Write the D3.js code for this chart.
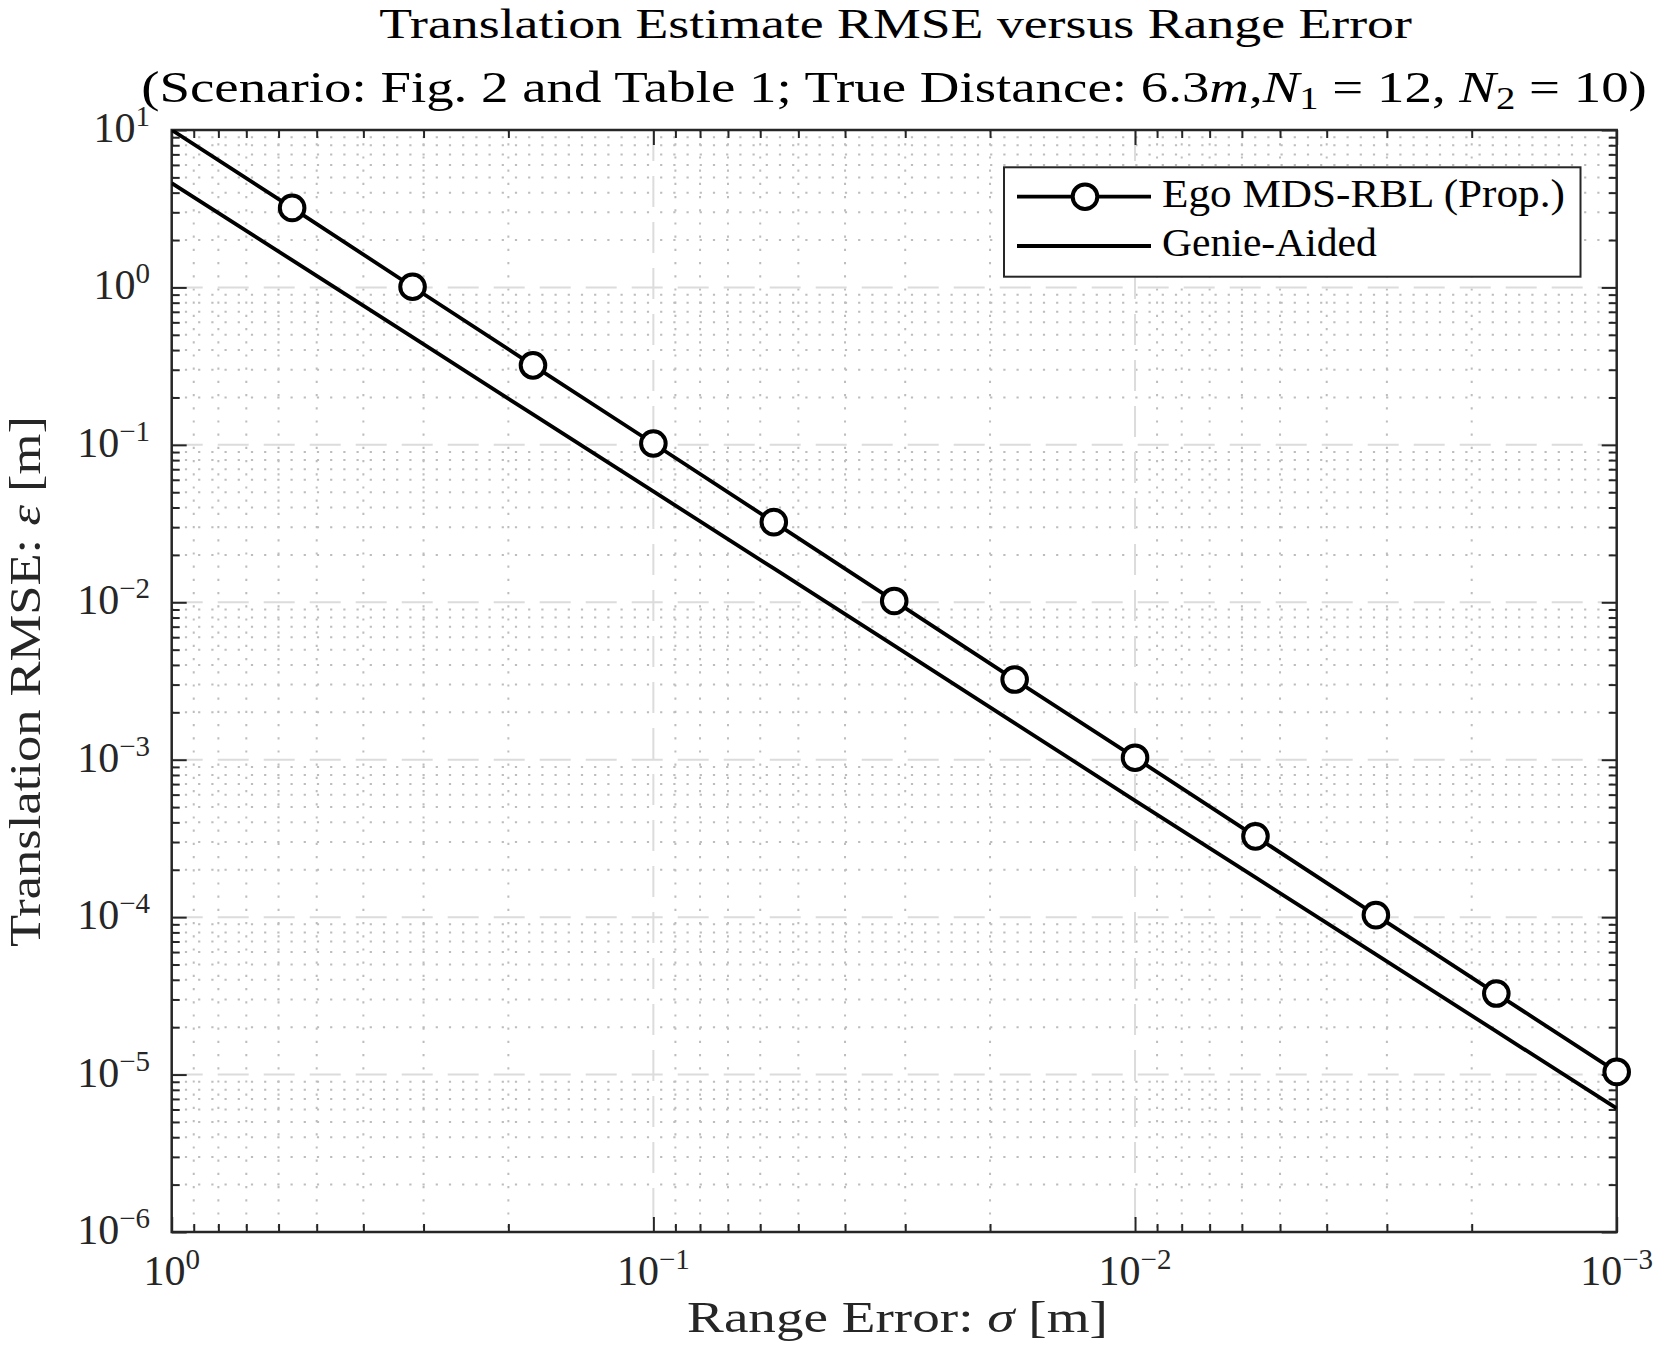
<!DOCTYPE html>
<html>
<head>
<meta charset="utf-8">
<script src="https://cdn.jsdelivr.net/npm/d3@7"></script>
<style>
  html, body { margin: 0; padding: 0; background: #fff; }
  svg { display: block; }
  text { font-family: "Liberation Serif", "DejaVu Serif", serif; }
</style>
</head>
<body>
<svg id="chart" width="1661" height="1363"></svg>
<script>
// ---------------- data ----------------
const sigma = [1, 0.5623, 0.3162, 0.1778, 0.1, 0.05623, 0.03162, 0.01778, 0.01, 0.005623, 0.003162, 0.001778, 0.001];
const egoRMSE = [10, 3.2, 1.01, 0.32, 0.102, 0.0323, 0.0102, 0.00323, 0.00103, 0.000326, 0.000103, 0.0000327, 0.0000104];
const egoMarkerShown = [false, true, true, true, true, true, true, true, true, true, true, true, true];
const genieRMSE = [4.6, 1.49, 0.483, 0.156, 0.0506, 0.0164, 0.0053, 0.00171, 0.00055, 0.000179, 0.000058, 0.0000188, 0.0000061];
const seriesNames = ["Ego MDS-RBL (Prop.)", "Genie-Aided"];
const xTickValues = [1, 0.1, 0.01, 0.001];
const xTickExponents = ["0", "\u22121", "\u22122", "\u22123"];
const yTickValues = [10, 1, 0.1, 0.01, 0.001, 0.0001, 0.00001, 0.000001];
const yTickExponents = ["1", "0", "\u22121", "\u22122", "\u22123", "\u22124", "\u22125", "\u22126"];
const titleLine1 = "Translation Estimate RMSE versus Range Error";
const xLabelText = ["Range Error: ", "\u03C3", " [m]"];
const yLabelText = ["Translation RMSE: ", "\u03B5", " [m]"];

// ---------------- layout ----------------
const L = 171.7, R = 1616.7, T = 130, B = 1232;
const axisColor = "#262626";
const svg = d3.select("#chart");
svg.append("rect").attr("width", 1661).attr("height", 1363).attr("fill", "#fff");

const x = d3.scaleLog().domain([1, 0.001]).range([L, R]);
const y = d3.scaleLog().domain([0.000001, 10]).range([B, T]);

const isMajor = v => Math.abs(Math.log10(v) - Math.round(Math.log10(v))) < 1e-9;
const xAll = x.ticks();
const yAll = y.ticks();
const xMinor = xAll.filter(v => !isMajor(v));
const yMinor = yAll.filter(v => !isMajor(v));
const xMajor = xAll.filter(isMajor);
const yMajor = yAll.filter(isMajor);

// ---------------- grid ----------------
const grid = svg.append("g");
grid.selectAll(".xminor").data(xMinor).enter().append("line")
  .attr("x1", d => x(d)).attr("x2", d => x(d)).attr("y1", T).attr("y2", B)
  .attr("stroke", "#bdbdbd").attr("stroke-width", 2).attr("stroke-dasharray", "2.2,11");
grid.selectAll(".yminor").data(yMinor).enter().append("line")
  .attr("y1", d => y(d)).attr("y2", d => y(d)).attr("x1", L).attr("x2", R)
  .attr("stroke", "#bdbdbd").attr("stroke-width", 2).attr("stroke-dasharray", "2.2,11");
grid.selectAll(".xmajor").data(xMajor.filter(v => v < 1 && v > 0.001)).enter().append("line")
  .attr("x1", d => x(d)).attr("x2", d => x(d)).attr("y1", T).attr("y2", B)
  .attr("stroke", "#dcdcdc").attr("stroke-width", 2).attr("stroke-dasharray", "31,15");
grid.selectAll(".ymajor").data(yMajor.filter(v => v < 10 && v > 0.000001)).enter().append("line")
  .attr("y1", d => y(d)).attr("y2", d => y(d)).attr("x1", L).attr("x2", R)
  .attr("stroke", "#dcdcdc").attr("stroke-width", 2).attr("stroke-dasharray", "31,15");

// ---------------- axes (ticks inward, box) ----------------
function styleAxis(g) {
  g.select(".domain").remove();
  g.selectAll(".tick line").attr("stroke", axisColor).attr("stroke-width", 2);
  g.selectAll(".tick text").remove();
}
const axes = svg.append("g");
axes.append("g").attr("transform", `translate(0,${B})`).call(d3.axisBottom(x).tickValues(xMinor).tickSize(-8).tickFormat("")).call(styleAxis);
axes.append("g").attr("transform", `translate(0,${B})`).call(d3.axisBottom(x).tickValues(xMajor).tickSize(-15).tickFormat("")).call(styleAxis);
axes.append("g").attr("transform", `translate(0,${T})`).call(d3.axisTop(x).tickValues(xMinor).tickSize(-8).tickFormat("")).call(styleAxis);
axes.append("g").attr("transform", `translate(0,${T})`).call(d3.axisTop(x).tickValues(xMajor).tickSize(-15).tickFormat("")).call(styleAxis);
axes.append("g").attr("transform", `translate(${L},0)`).call(d3.axisLeft(y).tickValues(yMinor).tickSize(-8).tickFormat("")).call(styleAxis);
axes.append("g").attr("transform", `translate(${L},0)`).call(d3.axisLeft(y).tickValues(yMajor).tickSize(-15).tickFormat("")).call(styleAxis);
axes.append("g").attr("transform", `translate(${R},0)`).call(d3.axisRight(y).tickValues(yMinor).tickSize(-8).tickFormat("")).call(styleAxis);
axes.append("g").attr("transform", `translate(${R},0)`).call(d3.axisRight(y).tickValues(yMajor).tickSize(-15).tickFormat("")).call(styleAxis);
axes.append("rect").attr("x", L).attr("y", T).attr("width", R - L).attr("height", B - T)
  .attr("fill", "none").attr("stroke", axisColor).attr("stroke-width", 2.5);

// tick labels
const tickFont = 42, supFont = 29;
yTickValues.forEach((v, i) => {
  const t = svg.append("text").attr("x", 150).attr("y", y(v) + 12)
    .attr("text-anchor", "end").attr("font-size", tickFont).attr("fill", axisColor);
  t.append("tspan").text("10");
  t.append("tspan").attr("font-size", supFont).attr("dy", -16).text(yTickExponents[i]);
});
xTickValues.forEach((v, i) => {
  const t = svg.append("text").attr("x", x(v)).attr("y", 1285)
    .attr("text-anchor", "middle").attr("font-size", tickFont).attr("fill", axisColor);
  t.append("tspan").text("10");
  t.append("tspan").attr("font-size", supFont).attr("dy", -16).text(xTickExponents[i]);
});

// ---------------- data ----------------
svg.append("clipPath").attr("id", "plotclip").append("rect")
  .attr("x", L).attr("y", T).attr("width", R - L).attr("height", B - T);
const line = d3.line().x(d => x(d[0])).y(d => y(d[1]));
const dataG = svg.append("g");
dataG.append("path").datum(sigma.map((s, i) => [s, genieRMSE[i]]))
  .attr("d", line).attr("fill", "none").attr("stroke", "#000").attr("stroke-width", 3.8)
  .attr("clip-path", "url(#plotclip)");
dataG.append("path").datum(sigma.map((s, i) => [s, egoRMSE[i]]))
  .attr("d", line).attr("fill", "none").attr("stroke", "#000").attr("stroke-width", 3.8)
  .attr("clip-path", "url(#plotclip)");
dataG.selectAll("circle").data(sigma.map((s, i) => [s, egoRMSE[i], egoMarkerShown[i]]).filter(d => d[2]))
  .enter().append("circle")
  .attr("cx", d => x(d[0])).attr("cy", d => y(d[1])).attr("r", 12.3)
  .attr("fill", "#fff").attr("stroke", "#000").attr("stroke-width", 4);

// ---------------- text helpers ----------------
function fitted(parentG, cx, baseY, target, anchor, build, rotate) {
  const g = parentG.append("g");
  const t = g.append("text").attr("x", 0).attr("y", 0).attr("text-anchor", anchor);
  build(t);
  const w = t.node().getBBox().width;
  const s = target / w;
  g.attr("transform", `translate(${cx},${baseY})` + (rotate ? ` rotate(${rotate})` : "") + ` scale(${s},1)`);
  return t;
}

// Title
fitted(svg, 895.5, 38, 1033, "middle", t => {
  t.attr("font-size", 42).attr("fill", "#000").text(titleLine1);
});
fitted(svg, 894, 102, 1506, "middle", t => {
  t.attr("font-size", 44).attr("fill", "#000").style("white-space", "pre");
  t.append("tspan").text("(Scenario: Fig. 2 and Table 1; True Distance: 6.3");
  t.append("tspan").attr("font-style", "italic").text("m");
  t.append("tspan").text(",");
  t.append("tspan").attr("font-style", "italic").text("N");
  t.append("tspan").attr("font-size", 31).attr("dy", 7).text("1");
  t.append("tspan").attr("dy", -7).text(" = 12, ");
  t.append("tspan").attr("font-style", "italic").text("N");
  t.append("tspan").attr("font-size", 31).attr("dy", 7).text("2");
  t.append("tspan").attr("dy", -7).text(" = 10)");
});

// Axis labels
fitted(svg, 897.5, 1332, 421, "middle", t => {
  t.attr("font-size", 45).attr("fill", axisColor).style("white-space", "pre");
  t.append("tspan").text(xLabelText[0]);
  t.append("tspan").attr("font-style", "italic").text(xLabelText[1]);
  t.append("tspan").text(xLabelText[2]);
});
fitted(svg, 40, 681.5, 531, "middle", t => {
  t.attr("font-size", 44).attr("fill", axisColor).style("white-space", "pre");
  t.append("tspan").text(yLabelText[0]);
  t.append("tspan").attr("font-style", "italic").text(yLabelText[1]);
  t.append("tspan").text(yLabelText[2]);
}, -90);

// ---------------- legend ----------------
const lg = svg.append("g");
lg.append("rect").attr("x", 1004).attr("y", 167.3).attr("width", 576.5).attr("height", 109.4)
  .attr("fill", "#fff").attr("stroke", axisColor).attr("stroke-width", 2);
const legendRows = [196.7, 246];
const legendTargets = [403, 215];
seriesNames.forEach((name, i) => {
  lg.append("line").attr("x1", 1017).attr("x2", 1151).attr("y1", legendRows[i]).attr("y2", legendRows[i])
    .attr("stroke", "#000").attr("stroke-width", 3.8);
  if (i === 0) {
    lg.append("circle").attr("cx", 1085).attr("cy", legendRows[i]).attr("r", 12.3)
      .attr("fill", "#fff").attr("stroke", "#000").attr("stroke-width", 4);
  }
  fitted(lg, 1162, legendRows[i] + 10, legendTargets[i], "start", t => {
    t.attr("font-size", 41).attr("fill", "#000").text(name);
  });
});
</script>
</body>
</html>
